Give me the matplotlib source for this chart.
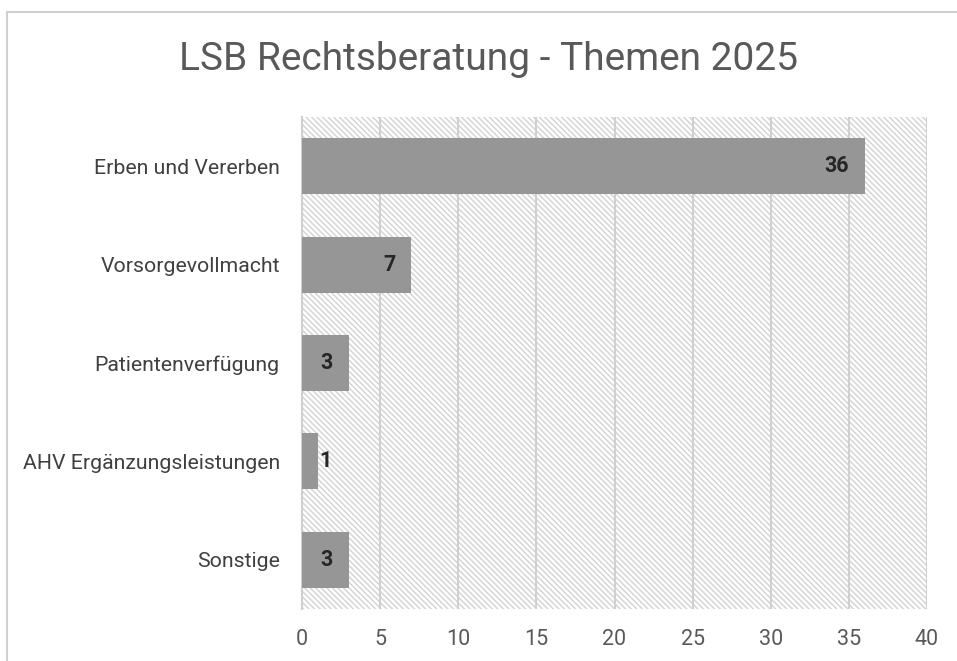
import numpy as np
import matplotlib.pyplot as plt
from matplotlib.patches import Rectangle

plt.rcParams['font.family'] = ['Roboto', 'DejaVu Sans']
plt.rcParams['hatch.linewidth'] = 1.0

# data
themen = ['Erben und Vererben', 'Vorsorgevollmacht', 'Patientenverfügung',
          'AHV Ergänzungsleistungen', 'Sonstige']
anzahl = [36, 7, 3, 1, 3]
xticks = [0, 5, 10, 15, 20, 25, 30, 35, 40]

fig = plt.figure(figsize=(9.57, 6.61), dpi=100)
# outer chart border (only left and top visible in the picture)
fig.add_artist(plt.Line2D([0.0073, 0.0073], [0, 0.982], color='#d0d0d0', lw=1.5))
fig.add_artist(plt.Line2D([0.0073, 1.0], [0.982, 0.982], color='#d0d0d0', lw=1.5))

ax = fig.add_axes([0.3156, 0.0787, 0.6531, 0.7443])

# hatched background of plot area
bg = Rectangle((0, 0), 1, 1, transform=ax.transAxes, facecolor='white',
               edgecolor='#d2d2d2', hatch='\\\\\\\\\\\\', linewidth=0, zorder=0)
ax.add_patch(bg)

y = np.arange(len(themen))
ax.barh(y, anzahl, height=0.57, color='#969696', zorder=3)

for yi, v in zip(y, anzahl):
    if v < 2:
        ax.annotate(str(v), (v, yi), xytext=(1, 0), textcoords='offset points',
                    ha='left', va='center', fontsize=15.5, fontweight='bold',
                    color='#262626', zorder=4)
    else:
        ax.annotate(str(v), (v, yi), xytext=(-11.5, 0), textcoords='offset points',
                    ha='right', va='center', fontsize=15.5, fontweight='bold',
                    color='#262626', zorder=4)

ax.set_xlim(0, 40)
ax.set_ylim(len(themen) - 0.5, -0.5)
ax.set_xticks(xticks)
ax.set_yticks(y)
ax.set_yticklabels(themen)
ax.xaxis.grid(True, color='#d0d0d0', linewidth=1.5, zorder=1)
ax.set_axisbelow(True)
for s in ['top', 'right', 'bottom']:
    ax.spines[s].set_visible(False)
ax.spines['left'].set_color('#d0d0d0')
ax.spines['left'].set_linewidth(1.5)
ax.tick_params(axis='both', length=0, colors='#404040')
ax.tick_params(axis='x', pad=14.5, labelsize=15.5, colors='#595959')
ax.tick_params(axis='y', pad=16, labelsize=15.3)

fig.text(0.5104, 0.91, 'LSB Rechtsberatung - Themen 2025', ha='center', va='center',
         fontsize=28, color='#595959')

fig.savefig('out.png', dpi=100)
